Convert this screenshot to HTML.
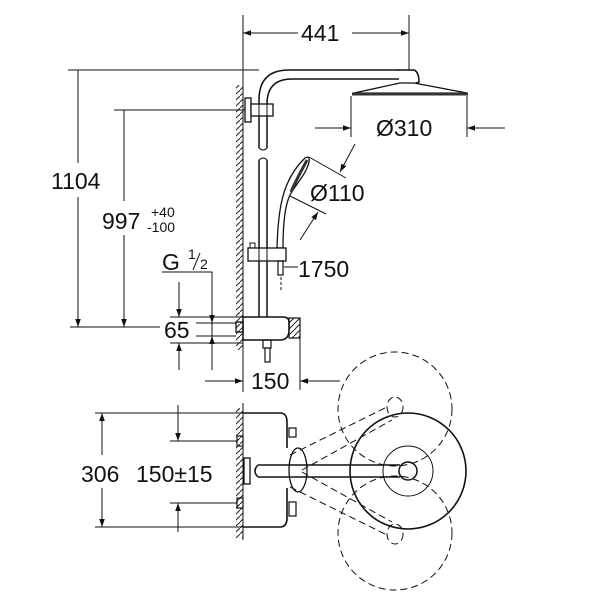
<!DOCTYPE html>
<html><head><meta charset="utf-8"><style>
html,body{margin:0;padding:0;background:#fff}
svg{display:block}
text{font-family:"Liberation Sans",sans-serif;fill:#111}
</style></head><body>
<svg width="600" height="600" viewBox="0 0 600 600" xmlns="http://www.w3.org/2000/svg">
<defs>
<marker id="a" viewBox="0 0 10 10" refX="10" refY="5" markerWidth="10" markerHeight="8" orient="auto-start-reverse" markerUnits="userSpaceOnUse"><path d="M0,1.5 L10,5 L0,8.5 Z" fill="#111"/></marker>
<pattern id="h" width="6" height="6" patternUnits="userSpaceOnUse"><path d="M0,6 L6,0" stroke="#222" stroke-width="1"/></pattern>
</defs>
<g stroke="#111" fill="none" stroke-width="1">
<line x1="243" y1="15" x2="243" y2="392"/>
<rect x="236" y="85" width="7" height="265" fill="url(#h)" stroke="none"/>
<line x1="409" y1="15" x2="409" y2="95"/>
<line x1="243" y1="33" x2="298" y2="33" marker-start="url(#a)"/>
<line x1="352" y1="33" x2="409" y2="33" marker-end="url(#a)"/>
<path d="M259,148 V100 Q259,70 289,70 H400" stroke-width="1.5"/>
<path d="M267,148 V104 Q267,79 292,79 H400" stroke-width="1.5"/>
<path d="M259,160 V318 M267,160 V318" stroke-width="1.5"/>
<path d="M259,148 Q263,152 267,148 M259,160 Q263,156 267,160"/>
<path d="M397,70 H414 Q419,72 419,82 L414,84 H400" stroke-width="1.5" fill="#fff"/>
<path d="M400,83 L354,93 L467,93 L414,83 Z" stroke-width="1.3" fill="#fff"/>
<line x1="352" y1="94" x2="468" y2="94" stroke-width="3" stroke="#333"/>
<rect x="245" y="98" width="6" height="24" stroke-width="1.3"/>
<rect x="251" y="104" width="22" height="12" stroke-width="1.3" fill="#fff"/>
<line x1="259" y1="104" x2="259" y2="116"/><line x1="267" y1="104" x2="267" y2="116"/>
<line x1="351" y1="96" x2="351" y2="137"/><line x1="467" y1="96" x2="467" y2="137"/>
<line x1="315" y1="128" x2="351" y2="128" marker-end="url(#a)"/>
<line x1="505" y1="128" x2="467" y2="128" marker-end="url(#a)"/>
<path d="M277,248 C278,210 282,180 305,158 Q310,155 309,162 C306,175 295,185 290,195 C285,205 283,225 283,248 Z" stroke-width="1.3" fill="#fff"/>
<path d="M291,192 C296,180 303,168 307,160" stroke-width="3" stroke="#333"/>
<line x1="309" y1="157" x2="346" y2="178"/><line x1="290" y1="196" x2="326" y2="214"/>
<line x1="355" y1="144" x2="340" y2="172" marker-end="url(#a)"/>
<line x1="300" y1="240" x2="318" y2="212" marker-end="url(#a)"/>
<rect x="248" y="248" width="38" height="13" stroke-width="1.3" fill="#fff"/>
<rect x="250" y="243" width="5" height="5"/>
<line x1="259" y1="248" x2="259" y2="261"/><line x1="267" y1="248" x2="267" y2="261"/>
<rect x="278" y="261" width="5" height="14" stroke-width="1.2"/>
<line x1="281" y1="277" x2="281" y2="290" stroke-dasharray="3,2"/>
<line x1="284" y1="267" x2="298" y2="267"/>
<path d="M243,317 H283 Q289,317 289,322 V330 Q289,340 280,340 H243 Z" stroke-width="1.5" fill="#fff"/>
<rect x="289" y="318" width="11" height="20" fill="url(#h)" stroke-width="1.2"/>
<rect x="236" y="322" width="7" height="10" stroke-width="1.3"/>
<rect x="263" y="340" width="8" height="8" stroke-width="1.2"/>
<rect x="265" y="348" width="5" height="14" stroke-width="1.2"/>
<line x1="300" y1="338" x2="300" y2="390"/>
<line x1="205" y1="381" x2="243" y2="381" marker-end="url(#a)"/>
<line x1="340" y1="381" x2="300" y2="381" marker-end="url(#a)"/>
<line x1="68" y1="70" x2="259" y2="70"/>
<line x1="114" y1="110" x2="245" y2="110"/>
<line x1="70" y1="327" x2="160" y2="327"/>
<line x1="78" y1="70" x2="78" y2="163"/><line x1="78" y1="197" x2="78" y2="327" marker-end="url(#a)"/>
<line x1="124" y1="110" x2="124" y2="201"/><line x1="124" y1="235" x2="124" y2="327" marker-end="url(#a)"/>
<polyline points="162,272 212,272 212,370"/>
<line x1="212" y1="300" x2="212" y2="323" marker-end="url(#a)"/>
<line x1="212" y1="352" x2="212" y2="336" marker-end="url(#a)"/>
<line x1="170" y1="317" x2="243" y2="317"/><line x1="170" y1="343" x2="243" y2="343"/>
<line x1="196" y1="323" x2="236" y2="323"/><line x1="196" y1="336" x2="236" y2="336"/>
<line x1="179" y1="282" x2="179" y2="317" marker-end="url(#a)"/>
<line x1="179" y1="370" x2="179" y2="343" marker-end="url(#a)"/>
<line x1="243" y1="403" x2="243" y2="540"/>
<rect x="236" y="408" width="7" height="130" fill="url(#h)" stroke="none"/>
<line x1="95" y1="413" x2="243" y2="413"/><line x1="95" y1="527" x2="243" y2="527"/>
<line x1="170" y1="441" x2="237" y2="441"/><line x1="170" y1="503" x2="237" y2="503"/>
<line x1="102" y1="455" x2="102" y2="413" marker-end="url(#a)"/>
<line x1="102" y1="488" x2="102" y2="527" marker-end="url(#a)"/>
<line x1="178" y1="405" x2="178" y2="441" marker-end="url(#a)"/>
<line x1="178" y1="532" x2="178" y2="503" marker-end="url(#a)"/>
<rect x="237" y="436" width="6" height="10" stroke-width="1.2"/>
<rect x="237" y="498" width="6" height="10" stroke-width="1.2"/>
<path d="M243,413 H280 Q287,413 287,422 V448" stroke-width="1.6"/>
<path d="M243,527 H280 Q287,527 287,518 V488" stroke-width="1.6"/>
<rect x="289" y="428" width="7" height="9" stroke-width="1.2"/>
<rect x="289" y="502" width="7" height="14" stroke-width="1.2"/>
<rect x="244" y="458" width="6" height="26" stroke-width="1.3"/>
<ellipse cx="298" cy="470" rx="9" ry="22" stroke-width="1.3"/>
<path d="M258,465 H400 M258,477 H400 M258,465 Q252,471 258,477" stroke-width="1.5"/>
<circle cx="408" cy="471" r="9" stroke-width="1.5" fill="#fff"/>
<circle cx="408" cy="471" r="58" stroke-width="1.6"/>
<circle cx="408" cy="471" r="25"/>
<g stroke-dasharray="7,4">
<circle cx="395" cy="409" r="57"/>
<circle cx="395" cy="533" r="57"/>
<line x1="290" y1="455" x2="387" y2="407"/><line x1="302" y1="470" x2="392" y2="420"/>
<line x1="290" y1="487" x2="387" y2="535"/><line x1="302" y1="472" x2="392" y2="522"/>
<ellipse cx="395" cy="407" rx="8" ry="10"/>
<ellipse cx="395" cy="534" rx="8" ry="10"/>
</g>
</g>
<g font-size="23">
<text x="301" y="41">441</text>
<text x="376" y="136">Ø310</text>
<text x="310" y="201">Ø110</text>
<text x="298" y="277">1750</text>
<text x="51" y="189">1104</text>
<text x="102" y="229">997</text>
<text x="162" y="270">G</text>
<text x="164" y="338">65</text>
<text x="251" y="389">150</text>
<text x="81" y="482">306</text>
<text x="136" y="482">150±15</text>
</g>
<g font-size="14">
<text x="151" y="217">+40</text>
<text x="147" y="232">-100</text>
<text x="188" y="259">1</text>
<text x="200" y="269">2</text>
</g>
<line x1="193" y1="270" x2="200" y2="253" stroke="#111"/>
</svg>
</body></html>
